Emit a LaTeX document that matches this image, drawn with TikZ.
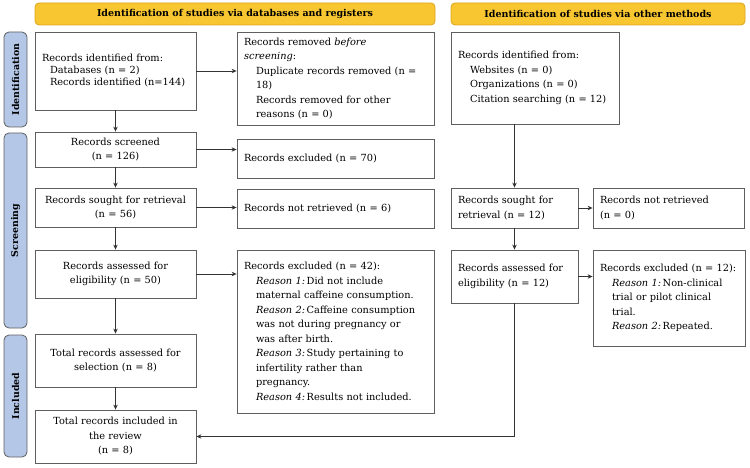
\documentclass[tikz,border=0pt]{standalone}
\usepackage{fontspec}
\setmainfont{DejaVu Serif}
\usetikzlibrary{arrows.meta,calc}
\definecolor{hdrfill}{HTML}{F8C630}
\definecolor{hdrdraw}{HTML}{DDA520}
\definecolor{barfill}{HTML}{B4C7E7}
\definecolor{boxdraw}{HTML}{5F5F5F}
\definecolor{linecol}{HTML}{333333}
\newcommand\ind{\hspace*{12pt}}
\newcommand\rsn[1]{\textit{Reason #1:}\,}
\begin{document}
\begin{tikzpicture}[x=1pt,y=-1pt,
 every node/.style={font=\fontsize{9.8}{14.5}\selectfont, text=black},
 box/.style={draw=boxdraw, line width=0.8pt, fill=white, inner xsep=7pt, inner ysep=2pt},
 hdr/.style={draw=hdrdraw, fill=hdrfill, rounded corners=4pt, line width=0.8pt, font=\fontsize{9.5}{11}\selectfont\bfseries},
 phase/.style={draw=boxdraw, fill=barfill, rounded corners=5pt, line width=0.8pt, rotate=90, minimum height=23pt, inner sep=0pt, font=\fontsize{9.4}{11}\selectfont\bfseries},
 arr/.style={draw=linecol, line width=0.8pt, -{Stealth[length=5pt,width=4.5pt]}},
 ln/.style={draw=linecol, line width=0.8pt}]
\useasboundingbox (0,0) rectangle (750,468);

\node[hdr, minimum width=400pt, minimum height=22pt] (hL) at (235,14) {Identification of studies via databases and registers};
\node[hdr, minimum width=294pt, minimum height=22pt] (hR) at (598,14) {Identification of studies via other methods};

\node[phase, minimum width=95pt] (pI) at (15.5,79.5) {Identification};
\node[phase, minimum width=195pt] (pS) at (15.5,230.5) {Screening};
\node[phase, minimum width=122pt] (pN) at (15.5,396) {Included};

\node[box, text width=147pt, minimum height=78pt, align=left, font=\fontsize{9.8}{12}\selectfont] (idDB) at (115.5,71) {Records identified from:\\\hspace*{8pt}Databases (n = 2)\\\hspace*{8pt}Records identified (n=144)\\[3pt]};
\node[box, text width=183pt, minimum height=93pt, align=left] (rem) at (335.5,78.5) {Records removed \textit{before}\\\textit{screening}:\\\ind Duplicate records removed (n =\\\ind 18)\\\ind Records removed for other\\\ind reasons (n = 0)};
\node[box, text width=147pt, minimum height=35pt, align=center] (scr) at (115.5,149.5) {Records screened\\(n = 126)};
\node[box, text width=183pt, minimum height=39pt, align=left] (ex70) at (335.5,158.5) {Records excluded (n = 70)};
\node[box, text width=147pt, minimum height=39pt, align=center] (sgt) at (115.5,207.5) {Records sought for retrieval\\(n = 56)};
\node[box, text width=183pt, minimum height=39pt, align=left] (nr6) at (335.5,208.5) {Records not retrieved (n = 6)};
\node[box, text width=147pt, minimum height=48pt, align=center] (as50) at (115.5,274) {Records assessed for\\eligibility (n = 50)};
\node[box, text width=183pt, minimum height=163pt, align=left] (ex42) at (335.5,331.5) {Records excluded (n = 42):\\\ind\rsn{1}Did not include\\\ind maternal caffeine consumption.\\\ind\rsn{2}Caffeine consumption\\\ind was not during pregnancy or\\\ind was after birth.\\\ind\rsn{3}Study pertaining to\\\ind infertility rather than\\\ind pregnancy.\\\ind\rsn{4}Results not included.};
\node[box, text width=147pt, minimum height=53pt, align=center] (tot8) at (115.5,360.5) {Total records assessed for\\selection (n = 8)};
\node[box, text width=147pt, minimum height=53pt, align=center] (inc) at (115.5,436.5) {Total records included in\\the review\\(n = 8)};

\node[box, text width=154pt, minimum height=92pt, align=left] (idO) at (535,78) {Records identified from:\\\ind Websites (n = 0)\\\ind Organizations (n = 0)\\\ind Citation searching (n = 12)};
\node[box, text width=113pt, minimum height=40pt, align=left] (sgR) at (514.5,208) {Records sought for\\retrieval (n = 12)};
\node[box, text width=137pt, minimum height=40pt, align=left] (nr0) at (668.5,208) {Records not retrieved\\(n = 0)};
\node[box, text width=113pt, minimum height=53pt, align=left] (asR) at (514.5,276.5) {Records assessed for\\eligibility (n = 12)};
\node[box, text width=138pt, minimum height=96pt, align=left] (exR) at (669,298) {Records excluded (n = 12):\\\ind\rsn{1}Non-clinical\\\ind trial or pilot clinical\\\ind trial.\\\ind\rsn{2}Repeated.};

\draw[arr] (idDB) -- (scr);
\draw[arr] (idDB.east) -- (idDB.east -| rem.west);
\draw[arr] (scr.east) -- (scr.east -| ex70.west);
\draw[arr] (scr) -- (sgt);
\draw[arr] (sgt.east) -- (sgt.east -| nr6.west);
\draw[arr] (sgt) -- (as50);
\draw[arr] (as50.east) -- (as50.east -| ex42.west);
\draw[arr] (as50) -- (tot8);
\draw[arr] (tot8) -- (inc);
\draw[arr] (sgR.north |- idO.south) -- (sgR.north);
\draw[arr] (sgR.east) -- (sgR.east -| nr0.west);
\draw[arr] (sgR) -- (asR);
\draw[arr] (asR.east) -- (asR.east -| exR.west);
\coordinate (turn) at (asR.south |- inc.east);
\draw[arr] (asR.south) -- (turn) -- (inc.east);
\end{tikzpicture}
\end{document}
